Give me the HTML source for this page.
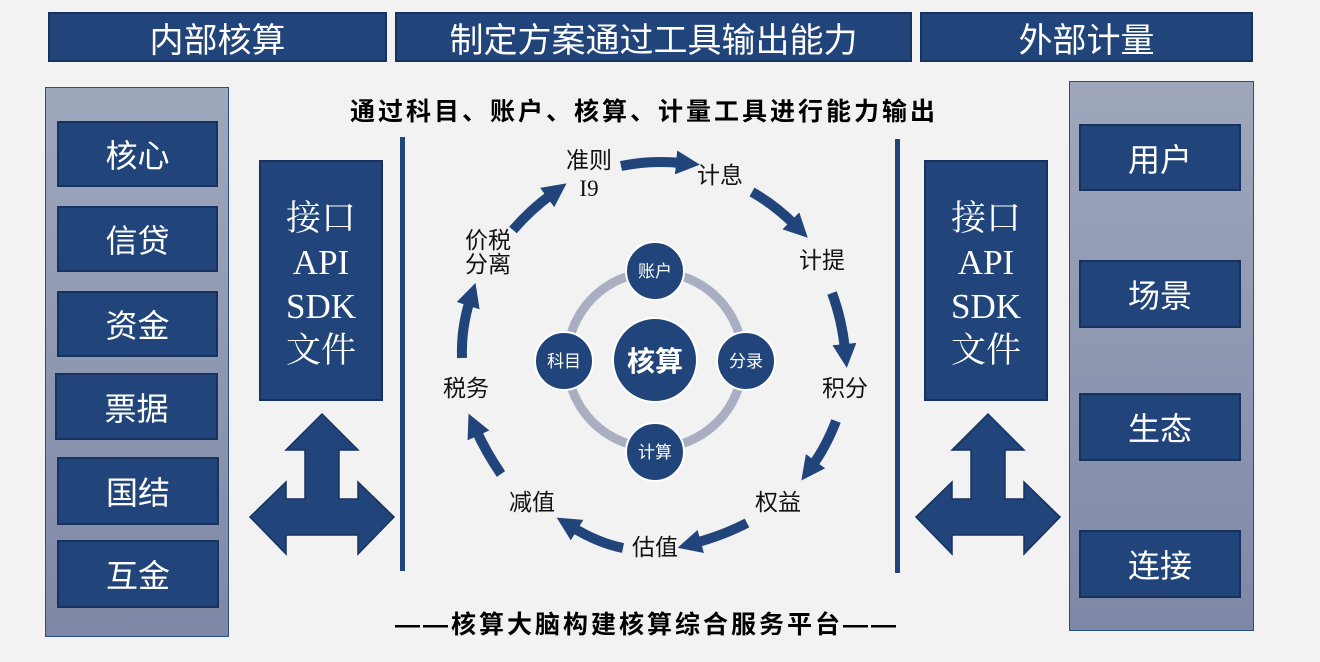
<!DOCTYPE html>
<html><head><meta charset="utf-8"><style>
body{margin:0;width:1320px;height:662px;background:#f2f2f2;position:relative;overflow:hidden;font-family:"Liberation Sans","Noto Sans CJK SC",sans-serif}
.b{position:absolute;background:#21457a;border:2px solid #17325e;box-sizing:border-box;color:#fff;display:flex;align-items:center;justify-content:center}
.h{font-size:34px}
.s{font-size:32px}
.panel{position:absolute;background:linear-gradient(#9fa7bc,#7e88a6);border:1px solid #2a4f86;box-sizing:border-box}
.api{position:absolute;background:#21457a;border:2px solid #17325e;box-sizing:border-box;color:#fff;font-family:"Liberation Serif","Noto Serif CJK SC",serif;font-size:35px;line-height:44px;text-align:center;padding-top:35px}
.t{position:absolute;font-weight:bold;font-size:25px;letter-spacing:3px;color:#000;white-space:nowrap}
</style></head><body>
<div class="b h" style="left:48px;top:12px;width:339px;height:50px">内部核算</div>
<div class="b h" style="left:395px;top:12px;width:517px;height:50px">制定方案通过工具输出能力</div>
<div class="b h" style="left:920px;top:12px;width:333px;height:50px">外部计量</div>

<div class="panel" style="left:45px;top:87px;width:184px;height:550px"></div>
<div class="b s" style="left:57px;top:121px;width:161px;height:66px">核心</div>
<div class="b s" style="left:57px;top:206px;width:161px;height:66px">信贷</div>
<div class="b s" style="left:57px;top:291px;width:161px;height:66px">资金</div>
<div class="b s" style="left:55px;top:373px;width:163px;height:67px">票据</div>
<div class="b s" style="left:57px;top:457px;width:162px;height:68px">国结</div>
<div class="b s" style="left:57px;top:540px;width:162px;height:68px">互金</div>

<div class="panel" style="left:1069px;top:81px;width:185px;height:550px"></div>
<div class="b s" style="left:1079px;top:124px;width:162px;height:67px">用户</div>
<div class="b s" style="left:1079px;top:260px;width:162px;height:68px">场景</div>
<div class="b s" style="left:1079px;top:393px;width:162px;height:68px">生态</div>
<div class="b s" style="left:1079px;top:530px;width:162px;height:68px">连接</div>

<div class="api" style="left:259px;top:160px;width:124px;height:241px">接口<br>API<br>SDK<br>文件</div>
<div class="api" style="left:924px;top:160px;width:124px;height:241px">接口<br>API<br>SDK<br>文件</div>

<div class="t" style="left:350px;top:92px">通过科目、账户、核算、计量工具进行能力输出</div>
<div class="t" style="left:395px;top:605px">——核算大脑构建核算综合服务平台——</div>

<svg style="position:absolute;left:0;top:0" width="1320" height="662">
<defs><marker id="m" markerUnits="userSpaceOnUse" markerWidth="28" markerHeight="28" refX="6" refY="14" orient="auto"><path d="M0,2 L24,14 L0,26 Z" fill="#21457a"/></marker></defs>
<g fill="#21457a" stroke="#17325e" stroke-width="1.5">
<path d="M322,414 L358,450 L339,450 L339,499 L358,499 L358,482 L394,517 L358,554 L358,535 L286,535 L286,554 L250,517 L286,482 L286,499 L305,499 L305,450 L286,450 Z"/>
<path d="M988,414 L1024,450 L1005,450 L1005,499 L1024,499 L1024,482 L1060,517 L1024,554 L1024,535 L952,535 L952,554 L916,517 L952,482 L952,499 L971,499 L971,450 L952,450 Z"/>
</g>
<rect x="400" y="137" width="5" height="434" fill="#21457a"/>
<rect x="895" y="139" width="5" height="434" fill="#21457a"/>
<circle cx="655" cy="360" r="88" fill="none" stroke="#a9afc0" stroke-width="9"/>
<g fill="#21457a" stroke="#fff" stroke-width="2">
<circle cx="655" cy="360" r="42"/>
<circle cx="655" cy="271" r="29"/>
<circle cx="746" cy="361" r="29"/>
<circle cx="655" cy="452" r="29"/>
<circle cx="564" cy="361" r="29"/>
</g>
<g fill="#fff" text-anchor="middle" font-family="Liberation Sans,Noto Sans CJK SC,sans-serif">
<text x="655" y="371" font-size="28" font-weight="bold">核算</text>
<text x="655" y="277" font-size="17">账户</text>
<text x="746" y="367" font-size="17">分录</text>
<text x="655" y="458" font-size="17">计算</text>
<text x="564" y="367" font-size="17">科目</text>
</g>
<g fill="none" stroke="#21457a" stroke-width="10" marker-end="url(#m)">
<path d="M621,166 Q650,160 682,163"/>
<path d="M752,192 Q775,205 795,225"/>
<path d="M832,293 Q842,320 845,350"/>
<path d="M836,421 Q826,447 812,466"/>
<path d="M747,523 Q724,535 695,543"/>
<path d="M623,548 Q598,543 572,527"/>
<path d="M501,474 Q486,452 476,430"/>
<path d="M462,358 Q461,328 470,300"/>
<path d="M513,230 Q530,210 552,194"/>
</g>
<g fill="#111" font-size="23" text-anchor="middle" font-family="Liberation Sans,Noto Sans CJK SC,sans-serif">
<text x="589" y="168">准则</text>
<text x="589" y="196" font-family="Liberation Serif,serif">I9</text>
<text x="720" y="183">计息</text>
<text x="822" y="268">计提</text>
<text x="845" y="396">积分</text>
<text x="778" y="510">权益</text>
<text x="655" y="555">估值</text>
<text x="532" y="510">减值</text>
<text x="466" y="396">税务</text>
<text x="488" y="248">价税</text>
<text x="488" y="272">分离</text>
</g>
</svg>
</body></html>
